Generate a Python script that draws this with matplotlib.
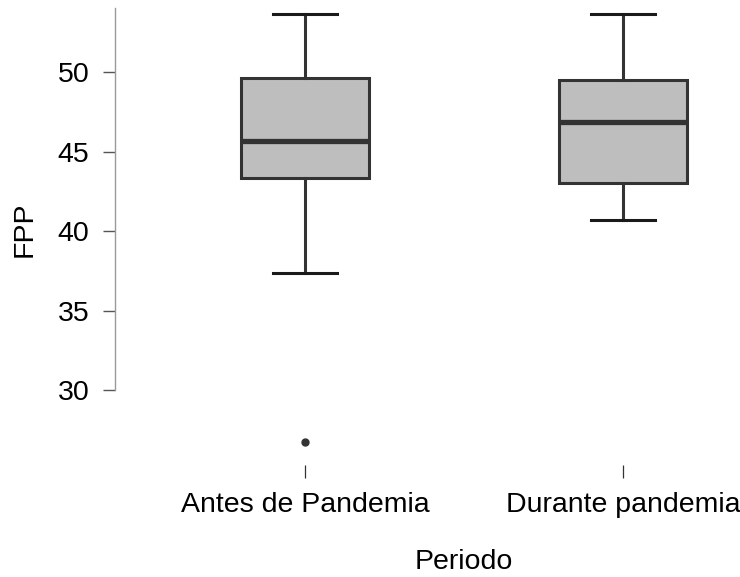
import matplotlib.pyplot as plt
from matplotlib.transforms import blended_transform_factory

plt.rcParams['font.family'] = ['Liberation Sans', 'DejaVu Sans']

# Periodo categories and box statistics of FPP
categories = ['Antes de Pandemia', 'Durante pandemia']
q1 = [43.35, 43.05]
medians = [45.7, 46.85]
q3 = [49.65, 49.5]
whisker_low = [37.35, 40.7]
whisker_high = [53.65, 53.65]
outliers = [[26.7], []]

stats = []
for i, name in enumerate(categories):
    stats.append({
        'label': name, 'q1': q1[i], 'med': medians[i], 'q3': q3[i],
        'whislo': whisker_low[i], 'whishi': whisker_high[i], 'fliers': outliers[i],
    })

fig = plt.figure(figsize=(7.4, 5.77), dpi=100)
W, H = 740, 577
ax = fig.add_axes([115 / W, 1 - 465 / H, 625 / W, 457 / H])

edge = '#333333'
ax.bxp(stats, positions=[1, 2], widths=0.4, capwidths=0.2, patch_artist=True,
       boxprops=dict(facecolor='#bebebe', edgecolor=edge, linewidth=2.2),
       medianprops=dict(color=edge, linewidth=3.8, solid_capstyle='butt'),
       whiskerprops=dict(color=edge, linewidth=2.2),
       capprops=dict(color='#1a1a1a', linewidth=2.2),
       flierprops=dict(marker='o', markersize=5, markerfacecolor=edge,
                       markeredgecolor=edge))

ax.set_xlim(0.4025, 2.368)
ax.set_ylim(25.28, 54.05)

for s in ['top', 'right', 'bottom']:
    ax.spines[s].set_visible(False)
ax.spines['left'].set_bounds(30, 54.05)
ax.spines['left'].set_color('#999999')
ax.spines['left'].set_linewidth(1.0)

fs = 20.5
ax.set_yticks([30, 35, 40, 45, 50])
ax.tick_params(axis='y', length=8.6, width=1.0, color='#555555', pad=10,
               labelsize=fs, labelcolor='black')
ax.set_xticks([1, 2])
ax.set_xticklabels(categories)
ax.tick_params(axis='x', length=9.4, width=0.9, color='#333333', pad=10,
               labelsize=fs, labelcolor='black')

fig.text(25 / W, 1 - 229 / H, 'FPP', rotation=90, ha='center', va='center',
         fontsize=fs)
trans = blended_transform_factory(ax.transData, fig.transFigure)
ax.text(1.5, 1 - 562 / H, 'Periodo', transform=trans, ha='center', va='center',
        fontsize=fs)

fig.savefig('out.png', dpi=100)
